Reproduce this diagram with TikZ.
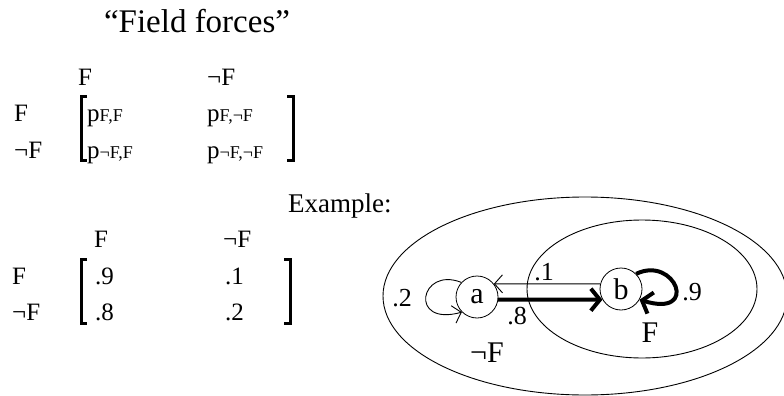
\documentclass[tikz,border=0pt]{standalone}
\usepackage{fontspec}
\setmainfont{Liberation Serif}
\usetikzlibrary{arrows.meta}
\newcommand\subfnt{\fontsize{18}{18}\selectfont}
\begin{document}
\begin{tikzpicture}[x=1pt,y=-1pt,
  txt/.style={inner sep=0pt, anchor=base west, font=\fontsize{25}{25}\selectfont},
  lab/.style={inner sep=0pt, font=\fontsize{26}{26}\selectfont},
  state/.style={circle, draw, line width=0.8pt, minimum size=42pt, inner sep=0pt, font=\fontsize{30}{30}\selectfont},
  brk/.style={line width=3pt},
  ell/.style={line width=0.9pt},
  thinarrow/.style={line width=0.9pt, -{Straight Barb[length=8pt,width=18pt]}},
  thickarrow/.style={line width=4pt, -{Straight Barb[length=9pt,width=22pt]}},
]
\useasboundingbox (0,0) rectangle (784,396);
% title
\node[anchor=base, inner sep=0pt, font=\fontsize{33}{33}\selectfont] (title) at (197,33) {“Field forces”};
% matrix 1
\node[txt] (h1F) at (78,85) {F};
\node[txt] (h1NF) at (207,85) {¬F};
\node[txt] (r1F) at (14,121) {F};
\node[txt] (r1NF) at (14,158) {¬F};
\node[txt] (p11) at (87,121) {p{\subfnt F,F}};
\node[txt] (p12) at (207,121) {p{\subfnt F,¬F}};
\node[txt] (p21) at (87,158) {p{\subfnt ¬F,F}};
\node[txt] (p22) at (207,158) {p{\subfnt ¬F,¬F}};
\draw[brk] (87,96) -| (81,160) -- (87,160);
\draw[brk] (287,96) -| (293,160) -- (287,160);
% Example
\node[anchor=base west, inner sep=0pt, font=\fontsize{27}{27}\selectfont] (ex) at (288,212) {Example:};
% matrix 2
\node[txt] (h2F) at (94,247) {F};
\node[txt] (h2NF) at (223,247) {¬F};
\node[txt] (r2F) at (12,284) {F};
\node[txt] (r2NF) at (12,320) {¬F};
\node[txt] (m11) at (95,284) {.9};
\node[txt] (m12) at (225,284) {.1};
\node[txt] (m21) at (95,320) {.8};
\node[txt] (m22) at (225,320) {.2};
\draw[brk] (87,259) -| (81,323) -- (87,323);
\draw[brk] (284,259) -| (290,323) -- (284,323);
% diagram
\draw[ell] (585,296) ellipse [x radius=202, y radius=99];
\draw[ell] (642,289) ellipse [x radius=115, y radius=69];
\node[state] (a) at (477,297) {a};
\node[state] (b) at (621,289) {b};
\draw[thinarrow] (b.166) -- (a.38);
\draw[thickarrow] (a.353) -- (b.210);
\draw[thinarrow] (a.137) .. controls (420,266) and (408,327) .. (a.225);
\draw[thickarrow] (b.45) .. controls (675,255) and (700,318) .. (b.330);
\node[lab] (l1) at (544,272) {.1};
\node[lab] (l8) at (517,316) {.8};
\node[lab] (l2) at (402,298) {.2};
\node[lab] (l9) at (692,292) {.9};
\node[lab, font=\fontsize{30}{30}\selectfont] (lF) at (650,333) {F};
\node[lab, font=\fontsize{30}{30}\selectfont] (lNF) at (487,353) {¬F};
\end{tikzpicture}
\end{document}
